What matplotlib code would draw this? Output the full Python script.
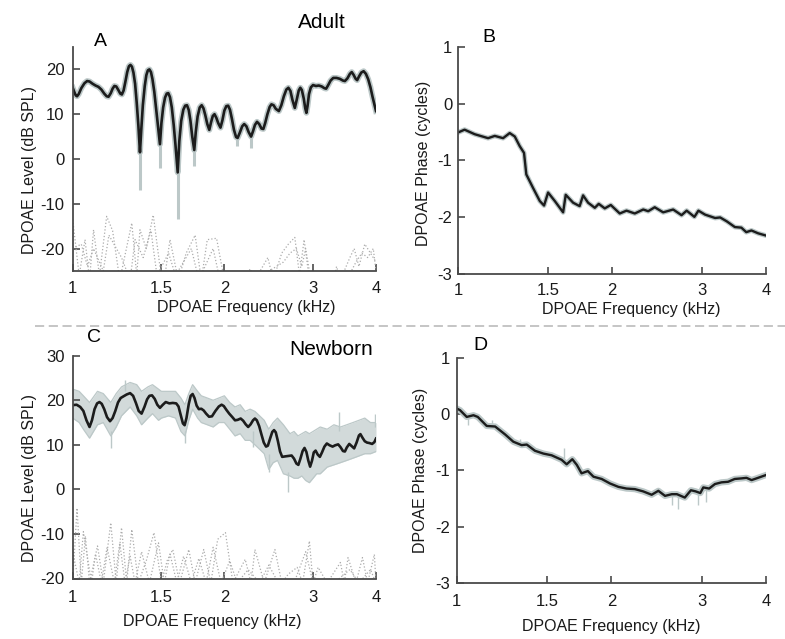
import numpy as np
import matplotlib
matplotlib.use("Agg")
import matplotlib.pyplot as plt
from matplotlib.lines import Line2D

plt.rcParams['font.family'] = ['Liberation Sans', 'DejaVu Sans']

# ---- Panel A: adult DPOAE level (dB SPL) ----
adult_lvl_f = [1.000, 1.007, 1.014, 1.020, 1.028, 1.040, 1.055, 1.068, 1.080, 1.095,
               1.110, 1.125, 1.140, 1.155, 1.168, 1.178, 1.190, 1.200, 1.210, 1.220,
               1.232, 1.243, 1.252, 1.262, 1.272, 1.283, 1.293, 1.302, 1.311, 1.320,
               1.330, 1.340, 1.350, 1.360, 1.368, 1.378, 1.390, 1.400, 1.410, 1.420,
               1.430, 1.440, 1.452, 1.465, 1.478, 1.490, 1.500, 1.512, 1.525, 1.537,
               1.548, 1.560, 1.573, 1.587, 1.600, 1.616, 1.628, 1.642, 1.658, 1.672,
               1.686, 1.700, 1.713, 1.727, 1.743, 1.755, 1.770, 1.787, 1.803, 1.818,
               1.833, 1.850, 1.867, 1.882, 1.897, 1.912, 1.928, 1.945, 1.965, 1.982,
               2.000, 2.018, 2.035, 2.052, 2.070, 2.090, 2.110, 2.125, 2.145, 2.170,
               2.190, 2.212, 2.235, 2.260, 2.280, 2.300, 2.322, 2.345, 2.370, 2.390,
               2.410, 2.435, 2.460, 2.480, 2.505, 2.530, 2.566, 2.595, 2.625, 2.655,
               2.680, 2.705, 2.730, 2.760, 2.785, 2.810, 2.830, 2.850, 2.875, 2.895,
               2.910, 2.925, 2.945, 2.970, 3.000, 3.040, 3.080, 3.120, 3.160, 3.185,
               3.215, 3.250, 3.290, 3.340, 3.390, 3.440, 3.470, 3.510, 3.550, 3.580,
               3.610, 3.645, 3.670, 3.700, 3.740, 3.780, 3.820, 3.860, 3.900, 3.935,
               3.965, 4.000]
adult_lvl = [15.9, 15.0, 14.2, 14.0, 14.5, 15.8, 16.9, 17.4, 17.3, 16.8,
             16.4, 16.1, 15.5, 14.6, 14.0, 13.9, 14.7, 15.7, 16.3, 16.2,
             15.4, 14.6, 14.4, 15.3, 17.2, 19.4, 20.7, 21.0, 20.6, 19.3,
             16.8, 12.5, 7.5, 1.5, 6.5, 12.0, 16.3, 18.7, 19.8, 20.0,
             19.4, 17.8, 15.0, 11.0, 7.0, 3.3, 8.0, 11.5, 13.7, 14.6,
             14.7, 13.8, 11.5, 7.5, 3.0, -3.0, 4.0, 8.5, 11.0, 11.9,
             12.0, 10.9, 8.5, 5.0, 2.0, 6.0, 9.5, 11.5, 12.0, 11.3,
             9.8, 7.8, 6.5, 8.2, 9.6, 10.0, 9.2, 8.0, 7.0, 8.6,
             10.8, 11.8, 11.9, 11.0, 9.0, 6.5, 4.9, 4.7, 5.8, 7.3,
             7.8, 7.3, 6.0, 5.0, 6.2, 7.6, 8.3, 7.8, 6.8, 6.7,
             8.0, 10.0, 11.6, 12.2, 12.0, 11.2, 10.7, 12.0, 14.0, 15.5,
             15.9, 15.2, 13.2, 11.4, 13.3, 15.3, 15.9, 15.4, 13.5, 11.3,
             10.3, 11.8, 14.5, 16.0, 16.5, 16.3, 16.4, 16.2, 15.8, 15.7,
             16.5, 17.5, 18.1, 18.1, 17.9, 17.5, 17.4, 18.0, 19.0, 19.4,
             18.8, 17.9, 17.6, 18.4, 19.3, 19.6, 19.0, 17.8, 16.0, 14.0,
             12.5, 10.7]

# deep individual-ear notches (gray) below the mean dips
adult_dip_f = [1.360, 1.490, 1.616, 1.743, 2.260, 2.120]
adult_dip_top = [1.5, 3.3, -3.0, 2.0, 5.0, 4.7]
adult_dip_low = [-7.0, -2.0, -13.5, -1.5, 2.5, 3.0]

# noise floor traces (dotted)
adult_nf1_f = [1.00, 1.03, 1.058, 1.08, 1.10, 1.13, 1.168, 1.20, 1.24, 1.31, 1.34, 1.36,
               1.40, 1.445, 1.49, 1.52, 1.56, 1.62, 1.68, 1.75, 1.80, 1.85, 1.93, 2.00,
               2.30, 2.44, 2.50, 2.60, 2.68, 2.76, 2.82, 2.88, 2.95, 3.30, 3.34, 3.40,
               3.55, 3.62, 3.70, 3.80, 3.90, 4.00]
adult_nf1 = [-13.5, -26, -18, -27, -15.8, -26, -12.8, -16, -27, -14.3, -26, -15.8,
             -20, -12.5, -24, -27, -18, -27, -21, -17, -27, -18, -17.7, -27,
             -27, -22, -27, -21, -19, -17.5, -26, -18, -27, -27, -24, -27,
             -22, -20, -24, -19, -21, -23]
adult_nf2_f = [1.00, 1.04, 1.07, 1.10, 1.15, 1.18, 1.25, 1.30, 1.33, 1.38, 1.43, 1.47,
               1.55, 1.60, 1.72, 1.78, 1.90, 1.96, 2.20, 2.25, 2.30, 2.62, 2.70, 2.78,
               2.85, 2.90, 2.97, 3.50, 3.65, 3.75, 3.85, 3.95, 4.00]
adult_nf2 = [-20, -19, -24, -20, -25, -17, -22, -27, -18, -22, -16, -26,
             -21, -26, -20, -27, -20, -27, -27, -24.5, -27, -23, -21, -20,
             -24, -20, -27, -27, -23, -21, -22, -20, -25]

# ---- Panel B: adult DPOAE phase (cycles) ----
adult_ph_f = [1.000, 1.030, 1.078, 1.145, 1.180, 1.225, 1.262, 1.291, 1.320, 1.346,
              1.360, 1.402, 1.445, 1.473, 1.500, 1.546, 1.605, 1.624, 1.679, 1.729,
              1.756, 1.796, 1.851, 1.884, 1.936, 1.989, 2.071, 2.135, 2.216, 2.302,
              2.354, 2.424, 2.518, 2.634, 2.735, 2.799, 2.898, 2.951, 3.040, 3.181,
              3.254, 3.354, 3.477, 3.580, 3.660, 3.746, 3.860, 4.000]
adult_ph = [-0.51, -0.46, -0.54, -0.61, -0.57, -0.61, -0.52, -0.58, -0.75, -0.87,
            -1.25, -1.49, -1.72, -1.80, -1.57, -1.72, -1.92, -1.61, -1.75, -1.81,
            -1.62, -1.75, -1.84, -1.77, -1.85, -1.79, -1.94, -1.89, -1.94, -1.87,
            -1.90, -1.83, -1.92, -1.87, -1.97, -1.89, -2.00, -1.89, -1.96, -2.02,
            -2.01, -2.08, -2.18, -2.19, -2.27, -2.24, -2.29, -2.33]

# ---- Panel C: newborn DPOAE level (dB SPL) ----
nb_lvl_f = [1.000, 1.018, 1.035, 1.050, 1.065, 1.080, 1.092, 1.105, 1.118, 1.130,
            1.142, 1.155, 1.170, 1.186, 1.200, 1.215, 1.230, 1.245, 1.262, 1.280,
            1.300, 1.318, 1.335, 1.352, 1.370, 1.388, 1.405, 1.420, 1.437, 1.455,
            1.472, 1.490, 1.510, 1.530, 1.555, 1.580, 1.605, 1.622, 1.640, 1.655,
            1.668, 1.682, 1.700, 1.715, 1.730, 1.745, 1.762, 1.780, 1.800, 1.820,
            1.840, 1.865, 1.890, 1.920, 1.950, 1.975, 1.995, 2.020, 2.045, 2.075,
            2.100, 2.125, 2.155, 2.180, 2.205, 2.230, 2.255, 2.280, 2.300, 2.320,
            2.345, 2.370, 2.395, 2.420, 2.440, 2.465, 2.490, 2.510, 2.530, 2.555,
            2.580, 2.605, 2.640, 2.680, 2.720, 2.750, 2.780, 2.805, 2.830, 2.860,
            2.885, 2.910, 2.935, 2.960, 2.985, 3.010, 3.035, 3.065, 3.095, 3.125,
            3.160, 3.195, 3.235, 3.280, 3.320, 3.365, 3.400, 3.440, 3.470, 3.500,
            3.540, 3.580, 3.620, 3.660, 3.700, 3.725, 3.760, 3.800, 3.840, 3.880,
            3.930, 3.970, 4.000]
nb_lvl = [18.9, 19.0, 18.5, 17.6, 15.5, 14.0, 15.5, 18.0, 19.3, 19.6,
          19.2, 18.0, 16.2, 15.3, 16.0, 17.6, 19.5, 20.5, 20.9, 21.3,
          21.6, 21.0, 19.4, 17.6, 17.0, 18.5, 20.2, 21.0, 21.1, 20.3,
          19.0, 18.3, 19.0, 19.6, 19.3, 19.4, 19.3, 18.6, 16.5, 14.8,
          14.4, 16.0, 19.2, 21.0, 21.4, 20.5, 18.8, 18.0, 18.1, 17.7,
          17.0, 16.3, 16.4, 17.6, 18.6, 19.0, 18.7, 17.8, 17.0, 16.2,
          15.5, 15.6, 15.9, 15.4, 14.6, 14.0, 14.6, 15.5, 15.9, 15.5,
          14.2, 12.3, 10.5, 9.6, 9.8, 11.4, 12.9, 13.3, 12.8, 10.8,
          8.5, 7.3, 7.4, 7.5, 7.6, 6.9, 5.8, 5.5, 6.8, 8.6,
          9.3, 8.4, 6.5, 5.1, 6.4, 8.3, 8.7, 7.8, 7.3, 8.3,
          9.6, 10.3, 9.9, 9.6, 9.9, 10.1, 9.5, 8.6, 8.5, 9.4,
          10.2, 9.7, 9.2, 10.5, 12.1, 12.4, 11.6, 10.8, 10.5, 10.4,
          10.2, 10.6, 11.4]

# spread of the individual newborn ears
nb_env_f = [1.00, 1.03, 1.05, 1.08, 1.12, 1.15, 1.19, 1.22, 1.25, 1.30, 1.34, 1.37,
            1.41, 1.44, 1.48, 1.50, 1.55, 1.60, 1.64, 1.67, 1.70, 1.73, 1.77, 1.80,
            1.85, 1.90, 1.95, 2.00, 2.05, 2.10, 2.15, 2.20, 2.25, 2.30, 2.35, 2.40,
            2.45, 2.50, 2.55, 2.62, 2.70, 2.75, 2.80, 2.85, 2.90, 2.95, 3.00, 3.05,
            3.10, 3.20, 3.30, 3.40, 3.50, 3.60, 3.70, 3.80, 3.90, 4.00]
nb_env_hi = [22.5, 22.0, 21.0, 19.5, 22.0, 21.5, 19.5, 21.5, 23.0, 24.0, 23.5, 22.0,
             23.0, 23.5, 22.5, 22.0, 22.0, 22.0, 20.5, 19.0, 21.5, 23.5, 22.0, 21.0,
             20.5, 20.0, 20.5, 21.0, 19.5, 18.5, 19.0, 17.5, 18.0, 17.5, 16.5, 15.5,
             13.5, 15.0, 16.0, 14.5, 12.5, 13.0, 12.0, 12.5, 13.0, 12.5, 13.0, 13.5,
             14.0, 13.5, 14.5, 14.0, 14.5, 15.0, 15.5, 16.0, 15.0, 15.0]
nb_env_lo = [16.0, 15.0, 13.5, 11.5, 14.5, 15.0, 12.0, 14.0, 16.5, 18.5, 16.5, 14.5,
             16.0, 17.0, 15.5, 16.0, 16.5, 16.0, 13.0, 12.0, 15.5, 18.0, 16.0, 15.0,
             14.5, 14.0, 15.0, 15.0, 13.5, 12.0, 12.5, 11.0, 11.0, 10.0, 9.0, 8.0,
             4.5, 6.0, 6.5, 3.5, 3.0, 2.5, 2.5, 3.0, 2.0, 1.5, 2.5, 3.5,
             3.5, 5.0, 5.5, 6.0, 6.5, 7.0, 7.5, 8.0, 8.0, 8.5]
nb_spike_f = [1.19, 1.67, 2.45, 2.67, 3.37, 3.98, 2.28, 1.27]
nb_spike_a = [13.0, 13.0, 8.0, 4.0, 13.0, 14.0, 13.0, 22.0]
nb_spike_b = [9.2, 10.5, 4.0, -0.7, 17.4, 17.0, 9.5, 24.5]

nb_nf1_f = [1.00, 1.02, 1.04, 1.06, 1.08, 1.12, 1.15, 1.19, 1.22, 1.25, 1.28, 1.31,
            1.35, 1.40, 1.45, 1.50, 1.54, 1.58, 1.63, 1.70, 1.75, 1.82, 1.88, 1.94,
            2.01, 2.08, 2.20, 2.26, 2.30, 2.40, 2.52, 2.60, 2.68, 2.79, 2.86, 2.95,
            3.00, 3.07, 3.20, 3.40, 3.46, 3.52, 3.65, 3.76, 3.85, 3.97, 4.00]
nb_nf1 = [-21, -4.2, -21, -10.5, -21, -12.7, -21, -7.5, -21, -8.6, -21, -9.0,
          -21, -16, -9.7, -21, -16, -13.5, -21, -13.5, -21, -13.5, -21, -11.2,
          -9.7, -21, -15.7, -21, -13.5, -21, -13.5, -21, -19, -17.5, -21, -11.6,
          -21, -17.5, -21, -16.4, -21, -15.3, -21, -15.3, -21, -14.6, -21]
nb_nf2_f = [1.00, 1.03, 1.05, 1.09, 1.11, 1.14, 1.17, 1.21, 1.24, 1.27, 1.30, 1.33,
            1.37, 1.42, 1.48, 1.52, 1.56, 1.61, 1.66, 1.72, 1.78, 1.84, 1.90, 1.97,
            2.05, 2.12, 2.23, 2.35, 2.45, 2.56, 2.75, 2.90, 3.00, 3.30, 3.55, 3.70,
            3.90, 4.00]
nb_nf2 = [-14, -21, -9.5, -21, -14.5, -21, -13, -21, -12, -21, -15, -21,
          -14, -21, -12, -21, -14.5, -21, -15, -21, -15.5, -21, -13, -21,
          -16, -21, -18, -21, -17, -21, -21, -14, -21, -21, -18, -21,
          -18, -21]

# ---- Panel D: newborn DPOAE phase (cycles) ----
nb_ph_f = [1.000, 1.015, 1.046, 1.078, 1.099, 1.144, 1.188, 1.242, 1.289, 1.338,
           1.369, 1.420, 1.475, 1.530, 1.600, 1.637, 1.679, 1.713, 1.750, 1.800,
           1.846, 1.915, 1.988, 2.064, 2.140, 2.222, 2.306, 2.396, 2.469, 2.544,
           2.622, 2.683, 2.780, 2.857, 2.918, 2.980, 3.020, 3.100, 3.182, 3.277,
           3.375, 3.477, 3.583, 3.665, 3.750, 3.860, 4.000]
nb_ph = [0.10, 0.07, -0.05, -0.02, -0.05, -0.21, -0.22, -0.36, -0.49, -0.55,
         -0.54, -0.65, -0.70, -0.73, -0.81, -0.89, -0.80, -0.90, -1.05, -1.01,
         -1.11, -1.15, -1.23, -1.29, -1.32, -1.33, -1.37, -1.43, -1.36, -1.45,
         -1.42, -1.42, -1.48, -1.35, -1.37, -1.40, -1.30, -1.32, -1.24, -1.21,
         -1.20, -1.15, -1.14, -1.13, -1.17, -1.13, -1.08]
nb_ph_spike_f = [1.05, 1.33, 1.62, 2.62, 2.70, 2.95, 3.05, 1.17]
nb_ph_spike_a = [-0.05, -0.55, -0.85, -1.42, -1.45, -1.38, -1.30, -0.22]
nb_ph_spike_b = [-0.20, -0.45, -0.60, -1.62, -1.68, -1.62, -1.55, -0.10]

xticks = [1, 1.5, 2, 3, 4]
xticklabels = ['1', '1.5', '2', '3', '4']

BLACK = '#1c1c1c'
GRAY = '#bcc8c8'
GRAY_FILL = '#d2dada'
NOISE = '#acacac'
SPINE = '#4a4a4a'

fig = plt.figure(figsize=(7.85, 6.39), dpi=100)
W, H = 785.0, 639.0


def make_ax(left, top, right, bottom):
    return fig.add_axes([left / W, 1 - bottom / H, (right - left) / W, (bottom - top) / H])


def style(ax, ylim, yticks, ylabel, ypad, xpad, xlabelpad, ylabelpad, xlab_x, ylab_y):
    ax.set_xscale('log')
    ax.set_xlim(1, 4)
    ax.set_ylim(*ylim)
    ax.set_xticks(xticks)
    ax.set_xticklabels(xticklabels)
    ax.xaxis.set_minor_locator(matplotlib.ticker.NullLocator())
    ax.set_yticks(yticks)
    ax.set_yticklabels([str(t) for t in yticks])
    for s in ['top', 'right']:
        ax.spines[s].set_visible(False)
    for s in ['left', 'bottom']:
        ax.spines[s].set_color(SPINE)
        ax.spines[s].set_linewidth(1.3)
    ax.tick_params(axis='both', direction='in', length=5, width=1.2, color=SPINE,
                   labelsize=12, labelcolor='#1a1a1a')
    ax.tick_params(axis='y', pad=ypad)
    ax.tick_params(axis='x', pad=xpad)
    ax.set_xlabel('DPOAE Frequency (kHz)', fontsize=11.5, labelpad=xlabelpad, color='#1a1a1a')
    ax.set_ylabel(ylabel, fontsize=11.5, labelpad=ylabelpad, color='#1a1a1a')
    ax.xaxis.label.set_x(xlab_x)
    ax.yaxis.label.set_y(ylab_y)


# A
axA = make_ax(72.7, 47, 376, 271)
axA.plot(adult_nf1_f, adult_nf1, ls=':', color=NOISE, lw=0.9)
axA.plot(adult_nf2_f, adult_nf2, ls=':', color=NOISE, lw=0.9)
axA.vlines(adult_dip_f, adult_dip_low, adult_dip_top, color=GRAY, lw=2.2)
axA.plot(adult_lvl_f, adult_lvl, color=GRAY, lw=4.2, solid_joinstyle='round')
axA.plot(adult_lvl_f, adult_lvl, color=BLACK, lw=1.9)
style(axA, (-25, 25), [-20, -10, 0, 10, 20], 'DPOAE Level (dB SPL)', 6, 7, 3, 2, 0.571, 0.45)

# B
axB = make_ax(458, 47, 766, 273.5)
axB.plot(adult_ph_f, adult_ph, color=GRAY, lw=3.5)
axB.plot(adult_ph_f, adult_ph, color=BLACK, lw=1.7)
style(axB, (-3, 1), [-3, -2, -1, 0, 1], 'DPOAE Phase (cycles)', 4, 7, 3, 5, 0.562, 0.485)

# C
axC = make_ax(72.7, 355.7, 376, 578.5)
axC.plot(nb_nf1_f, nb_nf1, ls=':', color=NOISE, lw=0.9)
axC.plot(nb_nf2_f, nb_nf2, ls=':', color=NOISE, lw=0.9)
axC.fill_between(nb_env_f, nb_env_lo, nb_env_hi, color=GRAY_FILL, lw=0)
axC.plot(nb_env_f, nb_env_hi, color=GRAY, lw=0.9)
axC.plot(nb_env_f, nb_env_lo, color=GRAY, lw=0.9)
axC.vlines(nb_spike_f, nb_spike_b, nb_spike_a, color=GRAY, lw=1.0)
axC.plot(nb_lvl_f, nb_lvl, color=BLACK, lw=1.9)
style(axC, (-20, 30), [-20, -10, 0, 10, 20, 30], 'DPOAE Level (dB SPL)', 6, 8, 7, 2, 0.459, 0.45)

# D
axD = make_ax(456.7, 357.7, 766, 583.3)
axD.plot(nb_ph_f, nb_ph, color=GRAY, lw=4.5)
axD.vlines(nb_ph_spike_f, nb_ph_spike_b, nb_ph_spike_a, color=GRAY, lw=1.0)
axD.plot(nb_ph_f, nb_ph, color=BLACK, lw=1.7)
style(axD, (-3, 1), [-3, -2, -1, 0, 1], 'DPOAE Phase (cycles)', 5, 8, 7, 5, 0.5, 0.5)

# panel letters and group titles
fig.text(100 / W, 1 - 41 / H, 'A', fontsize=14, ha='center', va='center')
fig.text(489 / W, 1 - 37.5 / H, 'B', fontsize=14, ha='center', va='center')
fig.text(94 / W, 1 - 338 / H, 'C', fontsize=14, ha='center', va='center')
fig.text(480 / W, 1 - 346 / H, 'D', fontsize=14, ha='center', va='center')
fig.text(322 / W, 1 - 22.5 / H, 'Adult', fontsize=15, ha='center', va='center')
fig.text(331 / W, 1 - 349.5 / H, 'Newborn', fontsize=15, ha='center', va='center')

# dashed separator between adult and newborn rows
fig.add_artist(Line2D([35 / W, 1.0], [1 - 326 / H, 1 - 326 / H], transform=fig.transFigure,
                      color='#b5b5b5', lw=1.1, dashes=(6, 3)))

fig.savefig('out.png', dpi=100)
